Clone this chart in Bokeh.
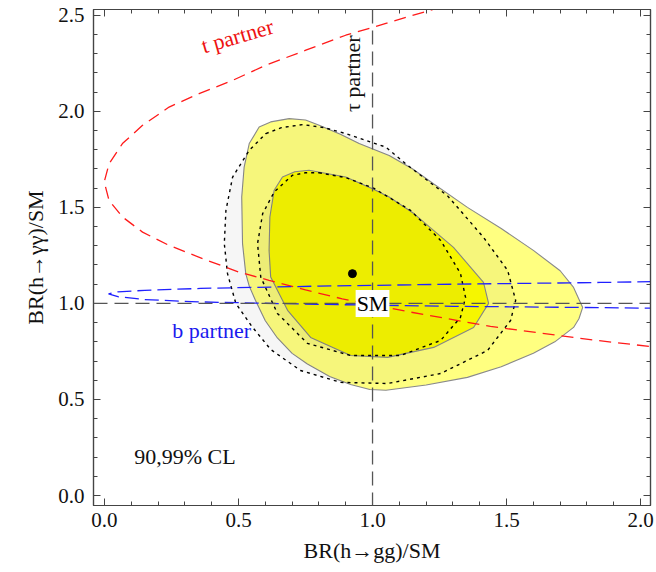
from bokeh.plotting import figure
from bokeh.models import (Range1d, LinearAxis, SingleIntervalTicker, PrintfTickFormatter, Span, Label,
                          CustomJSTickFormatter)
from bokeh.core.properties import value
from bokeh.embed import file_html
from bokeh.resources import INLINE
import math

FONT = "Liberation Serif"

# ---------------- data ----------------
x_range_lim = (-0.041, 2.037)
y_range_lim = (-0.052, 2.53)

# 99% CL region (solid outline, light yellow)
outer99_x = [0.689, 0.75, 0.801, 0.88, 0.95, 1.062, 1.15, 1.23, 1.354, 1.48, 1.60, 1.70, 1.75, 1.784,
             1.77, 1.75, 1.68, 1.60, 1.48, 1.354, 1.20, 1.05, 0.99, 0.918, 0.84, 0.757, 0.70, 0.645,
             0.60, 0.563, 0.54, 0.527, 0.515, 0.512, 0.521, 0.54, 0.577, 0.62]
outer99_y = [1.962, 1.955, 1.927, 1.88, 1.832, 1.77, 1.70, 1.62, 1.50, 1.39, 1.276, 1.17, 1.083, 0.979,
             0.92, 0.875, 0.80, 0.74, 0.67, 0.615, 0.575, 0.548, 0.552, 0.578, 0.62, 0.685, 0.74, 0.82,
             0.91, 1.016, 1.09, 1.155, 1.311, 1.554, 1.71, 1.832, 1.918, 1.945]

# 90% CL region (solid outline, bright yellow)
inner90_x = [0.763, 0.9, 1.0, 1.062, 1.153, 1.302, 1.414, 1.433, 1.377, 1.228, 1.056, 0.918, 0.769,
             0.683, 0.62, 0.614, 0.617, 0.633, 0.664, 0.71]
inner90_y = [1.693, 1.658, 1.597, 1.554, 1.469, 1.292, 1.109, 1.0, 0.875, 0.771, 0.719, 0.729, 0.823,
             0.964, 1.137, 1.276, 1.45, 1.589, 1.658, 1.685]

# 99% CL region of the second fit (dotted outline)
outer99b_x = [0.602, 0.66, 0.739, 0.82, 0.90, 1.049, 1.13, 1.28, 1.414, 1.504, 1.534, 1.515, 1.429,
              1.254, 1.056, 0.881, 0.731, 0.62, 0.55, 0.49, 0.459, 0.447, 0.453, 0.478, 0.54]
outer99b_y = [1.884, 1.915, 1.931, 1.915, 1.884, 1.814, 1.72, 1.56, 1.344, 1.172, 1.016, 0.911, 0.755,
              0.635, 0.583, 0.589, 0.651, 0.76, 0.88, 1.0, 1.155, 1.311, 1.484, 1.658, 1.797]

# 90% CL region of the second fit (dotted outline)
inner90b_x = [0.80, 0.9, 1.004, 1.142, 1.254, 1.328, 1.347, 1.328, 1.254, 1.104, 0.918, 0.757, 0.645,
              0.583, 0.571, 0.59, 0.633, 0.701, 0.75]
inner90b_y = [1.68, 1.655, 1.60, 1.484, 1.328, 1.156, 1.031, 0.927, 0.807, 0.729, 0.729, 0.792, 0.948,
              1.137, 1.311, 1.467, 1.58, 1.667, 1.68]

# best fit point and SM point
best_fit = (0.925, 1.155)
sm_point = (1.0, 1.0)

# t partner curve
t_x = [1.26, 1.056, 0.900, 0.751, 0.602, 0.478, 0.353, 0.241, 0.142, 0.067, 0.017, -0.001, 0.017,
       0.067, 0.142, 0.241, 0.366, 0.502, 0.614, 0.75, 0.887, 1.129, 1.44, 1.82, 2.04]
t_y = [2.545, 2.46, 2.396, 2.318, 2.24, 2.161, 2.092, 2.022, 1.927, 1.832, 1.727, 1.632, 1.536,
       1.45, 1.371, 1.302, 1.233, 1.163, 1.12, 1.07, 1.024, 0.958, 0.88, 0.81, 0.775]

# b partner curve
b_x = [2.04, 1.85, 1.3, 0.8, 0.358, 0.15, 0.05, 0.015, 0.05, 0.15, 0.35, 0.8, 1.3, 1.85, 2.04]
b_y = [1.113, 1.109, 1.10, 1.09, 1.078, 1.068, 1.06, 1.05, 1.035, 1.02, 1.008, 0.995, 0.985, 0.978, 0.975]

# labels
labels_text = ["t partner", "\u03c4 partner", "b partner", "90,99% CL"]
labels_x = [0.496, 0.925, 0.40, 0.30]
labels_y = [2.392, 2.196, 0.86, 0.203]
labels_color = ["#ee1111", "#111111", "#1a1aee", "#111111"]
labels_angle_deg = [16, 90, 0, 0]

x_axis_title = "BR(h\u2192gg)/SM"
y_axis_title = "BR(h\u2192\u03b3\u03b3)/SM"

# ---------------- figure ----------------
p = figure(width=656, height=572, output_backend="svg", toolbar_location=None,
           x_range=Range1d(*x_range_lim), y_range=Range1d(*y_range_lim),
           min_border_left=93, min_border_right=6, min_border_top=9, min_border_bottom=67)
p.xgrid.visible = False
p.ygrid.visible = False
p.outline_line_color = "#444444"
p.outline_line_width = 1.2
p.background_fill_color = "white"
p.border_fill_color = "white"

# regions
p.patch(outer99_x, outer99_y, fill_color="#ffff80", line_color="#8a8a8a", line_width=1.1)
p.patch(inner90_x, inner90_y, fill_color="#ffff00", line_color="#8a8a8a", line_width=1.1)
p.patch(outer99b_x, outer99b_y, fill_color="black", fill_alpha=0.035, line_color="black",
        line_dash="3 4", line_width=1.4)
p.patch(inner90b_x, inner90b_y, fill_color="black", fill_alpha=0.035, line_color="black",
        line_dash="3 4", line_width=1.4)

# SM lines
p.add_layout(Span(location=sm_point[0], dimension="height", line_color="#555555",
                  line_dash="14 7", line_width=1.3))
p.add_layout(Span(location=sm_point[1], dimension="width", line_color="#555555",
                  line_dash="14 7", line_width=1.3))

# partner curves
p.line(t_x, t_y, line_color="#ff1a1a", line_dash="12 7", line_width=1.3)
p.line(b_x, b_y, line_color="#2020ff", line_dash="14 6", line_width=1.3)

# best fit
p.scatter([best_fit[0]], [best_fit[1]], size=8, color="black")

# SM label
p.add_layout(Label(x=sm_point[0], y=sm_point[1], text="SM", text_align="center",
                   text_baseline="middle", text_font=FONT, text_font_size="22px",
                   text_color="black", background_fill_color="white", padding=1))

for t, x, y, c, a in zip(labels_text, labels_x, labels_y, labels_color, labels_angle_deg):
    p.text([x], [y], text=[t], angle=math.radians(a), text_align="center", text_baseline="middle",
           text_font=value(FONT), text_font_size="22px", text_color=c)

# axes
def style_axis(ax, labels=True):
    ax.ticker = SingleIntervalTicker(interval=0.5, num_minor_ticks=5)
    ax.major_tick_in = 7
    ax.major_tick_out = 0
    ax.minor_tick_in = 4
    ax.minor_tick_out = 0
    ax.axis_line_color = "#444444"
    ax.major_tick_line_color = "#444444"
    ax.minor_tick_line_color = "#444444"
    ax.axis_line_width = 1.2
    if labels:
        ax.formatter = PrintfTickFormatter(format="%.1f")
        ax.major_label_text_font = FONT
        ax.major_label_text_font_size = "21px"
        ax.major_label_text_color = "#111111"
        ax.axis_label_text_font = FONT
        ax.axis_label_text_font_size = "22px"
        ax.axis_label_text_font_style = "normal"
        ax.axis_label_text_color = "#111111"
    else:
        ax.formatter = CustomJSTickFormatter(code="return ''")
        ax.major_label_text_font_size = "1px"
        ax.major_label_standoff = 0

style_axis(p.xaxis[0])
style_axis(p.yaxis[0])
p.xaxis[0].axis_label = x_axis_title
p.yaxis[0].axis_label = y_axis_title
p.xaxis[0].major_label_standoff = 7
p.yaxis[0].major_label_standoff = 9
p.xaxis[0].axis_label_standoff = 8
p.yaxis[0].axis_label_standoff = 7

top_ax = LinearAxis()
right_ax = LinearAxis()
style_axis(top_ax, labels=False)
style_axis(right_ax, labels=False)
p.add_layout(top_ax, "above")
p.add_layout(right_ax, "right")

open("out.html", "w").write(file_html(p, INLINE))
